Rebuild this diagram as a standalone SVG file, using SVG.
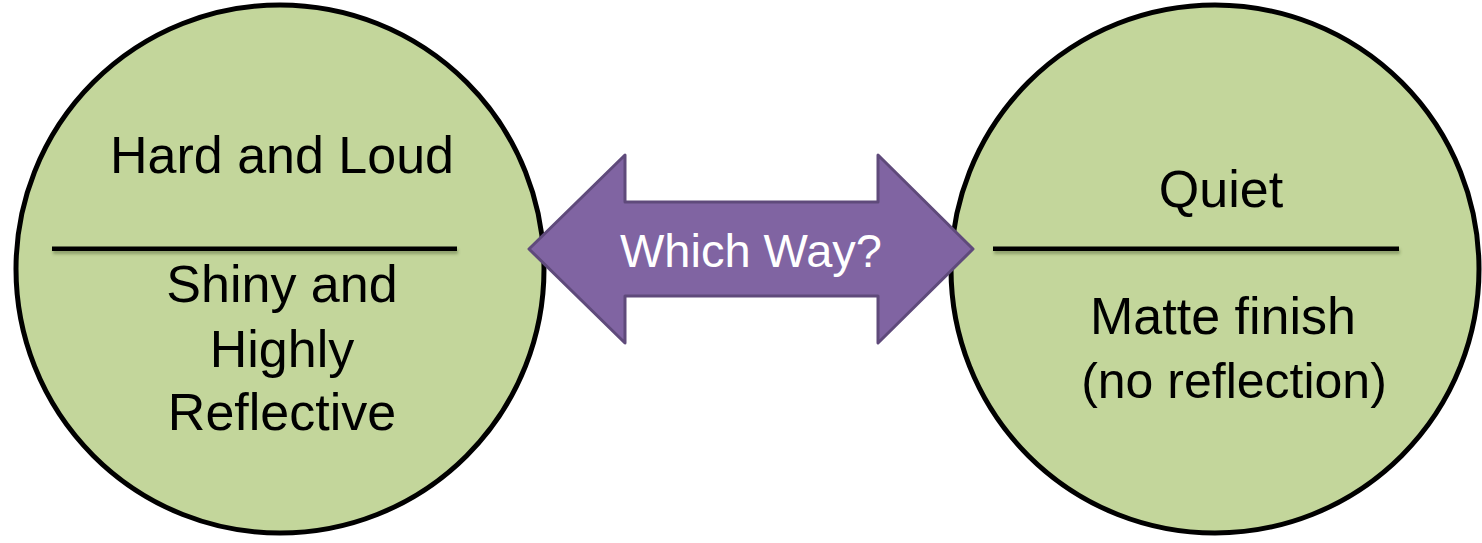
<svg xmlns="http://www.w3.org/2000/svg" width="1482" height="543" viewBox="0 0 1482 543">
  <style>
    .circ { fill: #C3D69B; stroke: #000000; stroke-width: 5; }
    .sep { fill: #000000; filter: url(#shadow); }
    .t { font-family: "Liberation Sans", Arial, sans-serif; font-size: 52px; fill: #000000; text-anchor: middle; }
    .arrow { fill: #8064A2; stroke: #5F4A7B; stroke-width: 3; stroke-linejoin: round; }
    .at { font-family: "Liberation Sans", Arial, sans-serif; font-size: 47px; fill: #FFFFFF; text-anchor: middle; }
  </style>
  <defs>
    <filter id="shadow" filterUnits="userSpaceOnUse" x="0" y="230" width="1482" height="40">
      <feDropShadow dx="1" dy="3" stdDeviation="1.5" flood-color="#4a5a2a" flood-opacity="0.45"/>
    </filter>
  </defs>
  <rect width="1482" height="543" fill="#FFFFFF"/>
  <g id="left-node">
    <circle class="circ" cx="280" cy="269" r="264"/>
    <rect class="sep" x="52" y="246.5" width="405" height="4.5"/>
    <text class="t" x="282" y="173">Hard and Loud</text>
    <text class="t" x="282" y="302">Shiny and</text>
    <text class="t" x="282" y="367">Highly</text>
    <text class="t" x="282" y="430">Reflective</text>
  </g>
  <g id="right-node">
    <circle class="circ" cx="1215" cy="269" r="264"/>
    <rect class="sep" x="993" y="246.5" width="406" height="4.5"/>
    <text class="t" x="1221" y="207">Quiet</text>
    <text class="t" x="1223" y="334">Matte finish</text>
    <text class="t" x="1234" y="398" style="font-size:50px">(no reflection)</text>
  </g>
  <g id="connectors">
    <g id="which-way-arrow">
      <polygon class="arrow" points="529,249 625,155 625,202 878,202 878,155 973,249 878,343 878,296 625,296 625,343"/>
      <text class="at" x="751" y="267">Which Way?</text>
    </g>
  </g>
</svg>
